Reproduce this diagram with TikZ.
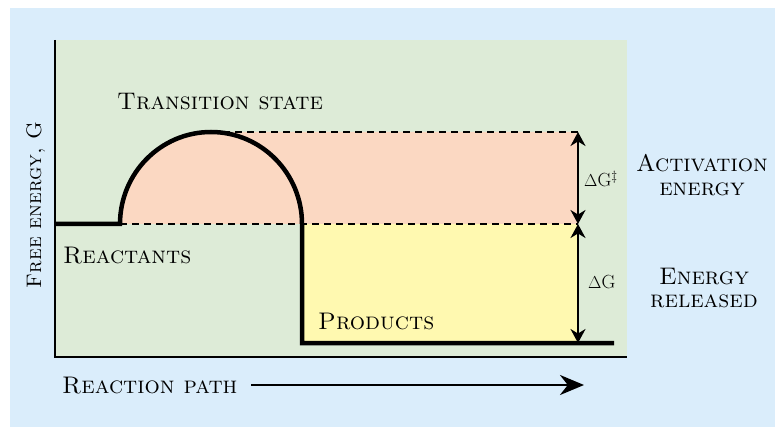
\documentclass[tikz,border=0pt]{standalone}
\usetikzlibrary{arrows.meta}
\definecolor{bgblue}{HTML}{DAEDFB}
\definecolor{panelgreen}{HTML}{DDEBD7}
\definecolor{salmon}{HTML}{FBD8C2}
\definecolor{paleyellow}{HTML}{FFF9B0}
\begin{document}
\begin{tikzpicture}[x=1pt,y=-1pt,
  lbl/.style={inner sep=0pt,font=\fontsize{24}{28}\selectfont\scshape},
  vlbl/.style={inner sep=0pt,font=\fontsize{21}{25}\selectfont\scshape},
  dlbl/.style={inner sep=0pt,font=\fontsize{19}{23}\selectfont},
  curve/.style={line width=4.5pt,line join=miter},
  axis/.style={line width=2pt},
  dashline/.style={dashed,line width=1.8pt,dash pattern=on 7pt off 5pt},
  dbl/.style={line width=2pt,{Stealth[length=14pt,width=15pt]}-{Stealth[length=14pt,width=15pt]}},
  patharrow/.style={line width=2.8pt,-{Stealth[length=24pt,width=20pt]}}]
\useasboundingbox (0,0) rectangle (775,427);
\fill[bgblue] (10,8) rectangle (775,427);
\fill[panelgreen] (55,40) rectangle (627,357);
% fills
\fill[salmon] (120,224) arc[start angle=180,end angle=90,x radius=91pt,y radius=92pt] -- (578,132) -- (578,224) -- cycle;
\fill[salmon] (211,132) arc[start angle=90,end angle=0,x radius=91pt,y radius=92pt] -- cycle;
\fill[paleyellow] (302,224) rectangle (578,343);
% dashed levels
\coordinate (ts) at (211,132);
\coordinate (tsR) at (578,132);
\coordinate (reL) at (120,224);
\coordinate (reR) at (578,224);
\coordinate (prR) at (578,343);
\draw[dashline] (ts) -- (tsR);
\draw[dashline] (reL) -- (reR);
% axes
\coordinate (origin) at (55,357);
\draw[axis] (55,40) -- (origin) -- (627,357);
% energy curve
\draw[curve] (55,224) -- (reL) arc[start angle=180,end angle=0,x radius=91pt,y radius=92pt] -- (302,343) -- (614,343);
% double arrows
\draw[dbl] (tsR) -- (reR);
\draw[dbl] (reR) -- (prR);
% labels
\node[lbl,anchor=base west] (tslabel) at (117,110) {Transition state};
\node[lbl,anchor=base west] (reactants) at (63,263) {Reactants};
\node[lbl,anchor=base west] (products) at (318,329) {Products};
\node[lbl,anchor=base west] (rpath) at (62,393) {Reaction path};
\node[vlbl,anchor=base,rotate=90] (fe) at (41,205) {Free energy, G};
\node[lbl,anchor=base] (act1) at (702,172) {Activation};
\node[lbl,anchor=base] (act2) at (702,196) {energy};
\node[lbl,anchor=base] (rel1) at (704,284) {Energy};
\node[lbl,anchor=base] (rel2) at (704,307) {released};
\node[dlbl,anchor=base west] (dgact) at (584,187) {$\Delta$G\textsuperscript{\ddag}};
\node[dlbl,anchor=base west] (dg) at (588,288) {$\Delta$G};
% reaction path arrow
\coordinate (rpS) at (251,385);
\coordinate (rpE) at (584,385);
\draw[patharrow] (rpS) -- (rpE);
\end{tikzpicture}
\end{document}
